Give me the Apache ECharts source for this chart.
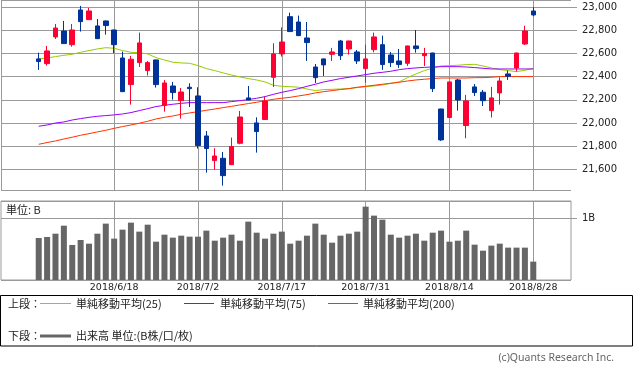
<!DOCTYPE html>
<html><head><meta charset="utf-8">
<script src="https://cdn.jsdelivr.net/npm/echarts@6/dist/echarts.min.js"></script>
<style>html,body{margin:0;padding:0;background:#fff}#c{width:633px;height:370px}</style>
</head><body><div id="c"></div>
<script>
const dates = ['2018/6/5','2018/6/6','2018/6/7','2018/6/8','2018/6/11','2018/6/12','2018/6/13','2018/6/14','2018/6/15','2018/6/18','2018/6/19','2018/6/20','2018/6/21','2018/6/22','2018/6/25','2018/6/26','2018/6/27','2018/6/28','2018/6/29','2018/7/2','2018/7/3','2018/7/4','2018/7/5','2018/7/6','2018/7/9','2018/7/10','2018/7/11','2018/7/12','2018/7/13','2018/7/17','2018/7/18','2018/7/19','2018/7/20','2018/7/23','2018/7/24','2018/7/25','2018/7/26','2018/7/27','2018/7/30','2018/7/31','2018/8/1','2018/8/2','2018/8/3','2018/8/6','2018/8/7','2018/8/8','2018/8/9','2018/8/10','2018/8/13','2018/8/14','2018/8/15','2018/8/16','2018/8/17','2018/8/20','2018/8/21','2018/8/22','2018/8/23','2018/8/24','2018/8/27','2018/8/28'];
const openP  = [22554,22513,22744,22795,22677,22977,22893,22839,22882,22804,22562,22332,22522,22453,22545,22153,22320,22193,22309,22234,21888,21675,21695,21640,21825,22217,22001,22030,22395,22597,22919,22873,22735,22484,22554,22594,22709,22640,22614,22470,22634,22677,22588,22536,22516,22666,22582,22605,22121,22047,22372,21978,22312,22266,22107,22260,22424,22476,22683,22968];
const closeP = [22531,22623,22821,22686,22804,22876,22968,22729,22842,22677,22271,22551,22692,22522,22332,22346,22263,22268,22297,21805,21779,21715,21545,21796,22052,22199,21926,22190,22597,22700,22790,22755,22695,22392,22502,22614,22582,22709,22536,22554,22744,22505,22522,22505,22666,22643,22600,22297,21854,22355,22199,22191,22263,22193,22217,22363,22404,22605,22795,22934];
const lowP   = [22459,22496,22726,22686,22660,22790,22893,22729,22764,22603,22271,22159,22484,22410,22306,22098,22202,22038,22138,21779,21571,21597,21459,21638,21816,22197,21744,22028,22312,22574,22788,22753,22536,22346,22407,22536,22545,22591,22510,22349,22611,22459,22484,22476,22493,22608,22493,22268,21845,22045,22107,21868,22234,22147,22047,22159,22372,22444,22674,22922];
const highP  = [22608,22666,22856,22882,22856,23012,22994,22899,22885,22806,22617,22580,22781,22536,22547,22372,22355,22303,22343,22309,21931,21782,21750,21874,22104,22320,22049,22228,22689,22827,22954,22928,22873,22510,22556,22649,22718,22711,22631,22677,22781,22755,22614,22640,22668,22804,22649,22607,22123,22357,22381,22243,22337,22286,22312,22395,22453,22607,22841,23000];
const ma25  = [22554,22562,22574,22585,22594,22611,22626,22640,22651,22646,22626,22611,22608,22597,22565,22545,22525,22519,22516,22496,22470,22453,22433,22415,22398,22384,22372,22355,22326,22317,22314,22309,22294,22280,22289,22291,22294,22297,22306,22314,22320,22329,22343,22355,22392,22424,22453,22473,22493,22496,22499,22505,22507,22493,22476,22461,22453,22444,22456,22473];
const ma75  = [21972,21983,22000,22009,22026,22038,22049,22058,22064,22070,22078,22090,22107,22124,22142,22153,22162,22170,22176,22176,22176,22176,22176,22185,22193,22202,22214,22228,22248,22265,22280,22297,22317,22335,22355,22369,22384,22395,22407,22418,22430,22438,22447,22461,22470,22476,22481,22484,22487,22487,22487,22484,22479,22473,22467,22467,22467,22467,22467,22467];
const ma200 = [21816,21831,21845,21862,21877,21894,21908,21923,21937,21954,21969,21983,21998,22015,22035,22049,22061,22075,22087,22098,22110,22121,22133,22144,22156,22168,22179,22193,22205,22214,22222,22234,22245,22260,22271,22280,22289,22297,22309,22317,22326,22335,22343,22352,22363,22372,22378,22384,22389,22389,22389,22389,22392,22392,22395,22401,22401,22401,22401,22401];
const volume = [0.677,0.694,0.747,0.876,0.565,0.645,0.586,0.747,0.909,0.667,0.812,0.925,0.780,0.892,0.618,0.731,0.683,0.715,0.699,0.699,0.796,0.634,0.683,0.731,0.634,0.941,0.763,0.667,0.747,0.780,0.586,0.634,0.715,0.909,0.731,0.602,0.715,0.747,0.780,1.183,1.038,0.973,0.731,0.683,0.715,0.747,0.634,0.763,0.796,0.618,0.634,0.796,0.570,0.473,0.554,0.586,0.522,0.522,0.522,0.296];
const tickLabels = ['2018/6/18','2018/7/2','2018/7/17','2018/7/31','2018/8/14','2018/8/28'];

const UP = '#FF0033', DOWN = '#003399', C25 = '#99CC00', C75 = '#9900FF', C200 = '#FF3300', VOLC = '#666666', GRIDC = '#9a9a9a';
const padL = ['p0','p1','p2','p3'], padR = ['q0','q1','q2','q3'];
const cats = padL.concat(dates, padR);
const pad = arr => padL.map(() => '-').concat(arr, padR.map(() => '-'));
const candles = pad(dates.map((d, i) => [openP[i], closeP[i], lowP[i], highP[i]]));
const tickSet = new Set(tickLabels);
const isTick = (idx, val) => tickSet.has(val);

const chart = echarts.init(document.getElementById('c'), null, {renderer: 'canvas'});
const txt = (x, y, s, opt) => Object.assign({type: 'text', x, y, style: Object.assign({text: s, fill: '#222', font: '11px "Noto Sans CJK JP"', verticalAlign: 'middle'}, opt || {})}, {});
const ln = (x1, x2, y, color, w) => ({type: 'line', shape: {x1, y1: y, x2, y2: y}, style: {stroke: color, lineWidth: w}});

chart.setOption({
  animation: false,
  backgroundColor: '#fff',
  grid: [
    {left: 1, top: 0, width: 570, height: 190, show: false},
    {left: 1, top: 201, width: 570, height: 79, show: true, borderColor: GRIDC, borderWidth: 1, backgroundColor: 'transparent'}
  ],
  xAxis: [
    {type: 'category', gridIndex: 0, data: cats, boundaryGap: true,
     axisLine: {show: false}, axisTick: {show: false}, axisLabel: {show: false},
     splitLine: {show: true, interval: isTick, alignWithLabel: true, lineStyle: {color: GRIDC, width: 1}}},
    {type: 'category', gridIndex: 1, data: cats, boundaryGap: true,
     axisLine: {show: false}, axisTick: {show: false},
     axisLabel: {show: true, interval: isTick, margin: 3, color: '#222', fontFamily: 'DejaVu Sans', fontSize: 9.5},
     splitLine: {show: true, interval: isTick, alignWithLabel: true, lineStyle: {color: GRIDC, width: 1}}}
  ],
  yAxis: [
    {type: 'value', gridIndex: 0, position: 'right', min: 21421, max: 23063, minInterval: 200, maxInterval: 200, scale: true,
     axisLine: {show: false}, axisTick: {show: true, length: 6, lineStyle: {color: GRIDC}},
     axisLabel: {margin: 11, color: '#222', fontFamily: 'DejaVu Sans', fontSize: 10, showMinLabel: false, showMaxLabel: false,
       formatter: v => (Math.round(v) % 200 === 0 ? v.toLocaleString('en-US') : '')},
     splitLine: {show: true, lineStyle: {color: GRIDC, width: 1}}},
    {type: 'value', gridIndex: 1, position: 'right', min: 0, max: 1.274, interval: 1,
     axisLine: {show: false}, axisTick: {show: true, length: 6, lineStyle: {color: GRIDC}},
     axisLabel: {margin: 11, color: '#222', fontFamily: 'DejaVu Sans', fontSize: 10, showMinLabel: false, showMaxLabel: false,
       formatter: v => (v === 1 ? '1B' : '')},
     splitLine: {show: true, lineStyle: {color: GRIDC, width: 1}}}
  ],
  series: [
    {type: 'line', name: '単純移動平均(25)', xAxisIndex: 0, yAxisIndex: 0, data: pad(ma25), symbol: 'none', lineStyle: {color: C25, width: 1}, z: 2},
    {type: 'line', name: '単純移動平均(75)', xAxisIndex: 0, yAxisIndex: 0, data: pad(ma75), symbol: 'none', lineStyle: {color: C75, width: 1}, z: 2},
    {type: 'line', name: '単純移動平均(200)', xAxisIndex: 0, yAxisIndex: 0, data: pad(ma200), symbol: 'none', lineStyle: {color: C200, width: 1}, z: 2},
    {type: 'candlestick', xAxisIndex: 0, yAxisIndex: 0, data: candles, barWidth: 5, z: 3,
     itemStyle: {color: UP, color0: DOWN, borderColor: UP, borderColor0: DOWN, borderWidth: 1}},
    {type: 'bar', name: '出来高', xAxisIndex: 1, yAxisIndex: 1, data: pad(volume), barWidth: 6, itemStyle: {color: VOLC}}
  ],
  graphic: [
    {type: 'line', shape: {x1: 1.5, y1: 0, x2: 1.5, y2: 190.5}, style: {stroke: GRIDC, lineWidth: 1}},
    txt(6, 209.5, '単位: B'),
    {type: 'rect', shape: {x: 0.5, y: 295.5, width: 632, height: 50.5}, style: {fill: 'none', stroke: '#000', lineWidth: 1}},
    txt(8, 303.5, '上段：'),
    ln(40, 71, 303.5, C25, 1), txt(76, 303.5, '単純移動平均(25)'),
    ln(184, 214, 303.5, C75, 1), txt(220, 303.5, '単純移動平均(75)'),
    ln(328, 358, 303.5, C200, 1), txt(363, 303.5, '単純移動平均(200)'),
    txt(8, 336, '下段：'),
    ln(40, 71, 336, VOLC, 3), txt(76, 336, '出来高 単位:(B株/口/枚)'),
    txt(614, 358, '(c)Quants Research Inc.', {fill: '#666', align: 'right', font: '10.5px "Noto Sans"'})
  ]
});
</script>
</body></html>
